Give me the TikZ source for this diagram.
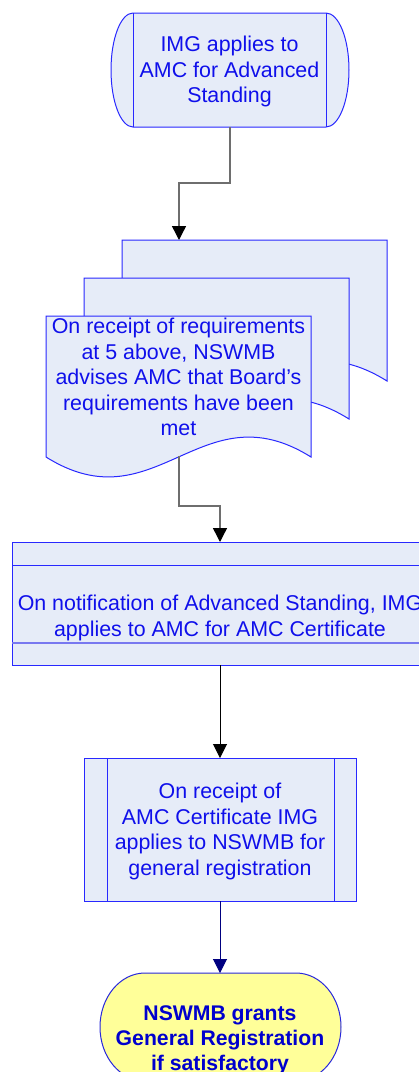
\documentclass[tikz,border=0pt]{standalone}
\usepackage{fontspec}
\setmainfont{Liberation Sans}
\usetikzlibrary{arrows.meta}
\definecolor{boxfill}{RGB}{230,236,248}
\definecolor{edgeblue}{RGB}{40,40,255}
\definecolor{txtblue}{RGB}{15,15,235}
\definecolor{paleline}{RGB}{120,120,240}
\definecolor{termfill}{RGB}{255,255,153}
\definecolor{termtxt}{RGB}{0,0,205}
\definecolor{termedge}{RGB}{40,40,220}
\definecolor{graylink}{RGB}{110,110,110}
\definecolor{navylink}{RGB}{0,0,128}
\tikzset{
  shapeline/.style={draw=edgeblue, line width=1pt, fill=boxfill},
  txt/.style={text=txtblue, align=center, inner sep=0pt, font=\fontsize{21.4}{25.6}\selectfont},
  termtext/.style={text=termtxt, align=center, inner sep=0pt, font=\bfseries\fontsize{21.2}{25}\selectfont},
  conn/.style={draw=graylink, line width=1.4pt, -{Triangle[width=14pt,length=14pt,color=black]}},
  connblack/.style={draw=black, line width=1pt, -{Triangle[width=14pt,length=14pt]}},
  connnavy/.style={draw=navylink, line width=1pt, -{Triangle[width=14pt,length=14pt]}},
  docsheet/.pic={\draw[shapeline] (0,0) -- (265,0) -- (265,-141) .. controls (155,-72) and (110,-210) .. (0,-141) -- cycle;}
}
\begin{document}
\begin{tikzpicture}[x=1pt,y=1pt]
\clip (0,0) rectangle (419,-1072);
\fill[white] (0,0) rectangle (419,-1072);

% start shape
\draw[shapeline] (133,-13) -- (326,-13) arc[start angle=90,end angle=-90,x radius=23,y radius=57]
  -- (133,-127) arc[start angle=270,end angle=90,x radius=22,y radius=57] -- cycle;
\draw[edgeblue, line width=1pt] (133,-13) -- (133,-127) (326,-13) -- (326,-127);
\node[txt] (start) at (229.5,-71.5) {IMG applies to\\AMC for Advanced\\Standing};
\coordinate (startS) at (230,-127);

% multi-document
\pic at (122,-240) {docsheet};
\pic at (84,-278) {docsheet};
\pic at (46,-316) {docsheet};
\node[txt] (docs) at (178.5,-377) {On receipt of requirements\\at 5 above, NSWMB\\advises AMC that Board’s\\requirements have been\\met};
\coordinate (docsN) at (179,-240);
\coordinate (docsS) at (179,-456);

% process with header/footer
\draw[shapeline] (12,-542) rectangle (428,-665);
\draw[edgeblue, line width=1pt] (12,-565) -- (428,-565);
\draw[paleline, line width=1.8pt] (12,-643) -- (428,-643);
\node[txt] (notif) at (220,-618) {On notification of Advanced Standing, IMG\\applies to AMC for AMC Certificate};
\coordinate (notifN) at (220,-542);
\coordinate (notifS) at (220,-665);

% predefined process
\draw[shapeline] (84,-758) rectangle (356,-901);
\draw[edgeblue, line width=1pt] (107,-758) -- (107,-901) (334,-758) -- (334,-901);
\node[txt] (apply) at (220,-831.5) {On receipt of\\AMC Certificate IMG\\applies to NSWMB for\\general registration};
\coordinate (applyN) at (220,-758);
\coordinate (applyS) at (220,-901);

% terminal
\draw[draw=termedge, line width=1pt, fill=termfill] (145,-973) -- (296,-973)
  arc[start angle=90,end angle=-90,x radius=45,y radius=54] -- (145,-1081)
  arc[start angle=270,end angle=90,x radius=45,y radius=54] -- cycle;
\node[termtext] (grant) at (220,-1040.5) {NSWMB grants\\General Registration\\if satisfactory};
\coordinate (grantN) at (220,-973);

% connectors
\draw[conn] (startS) -- ++(0,-56) -| (docsN);
\draw[conn] (docsS) -- ++(0,-50) -| (notifN);
\draw[connblack] (notifS) -- (applyN);
\draw[connnavy] (applyS) -- (grantN);
\end{tikzpicture}
\end{document}
